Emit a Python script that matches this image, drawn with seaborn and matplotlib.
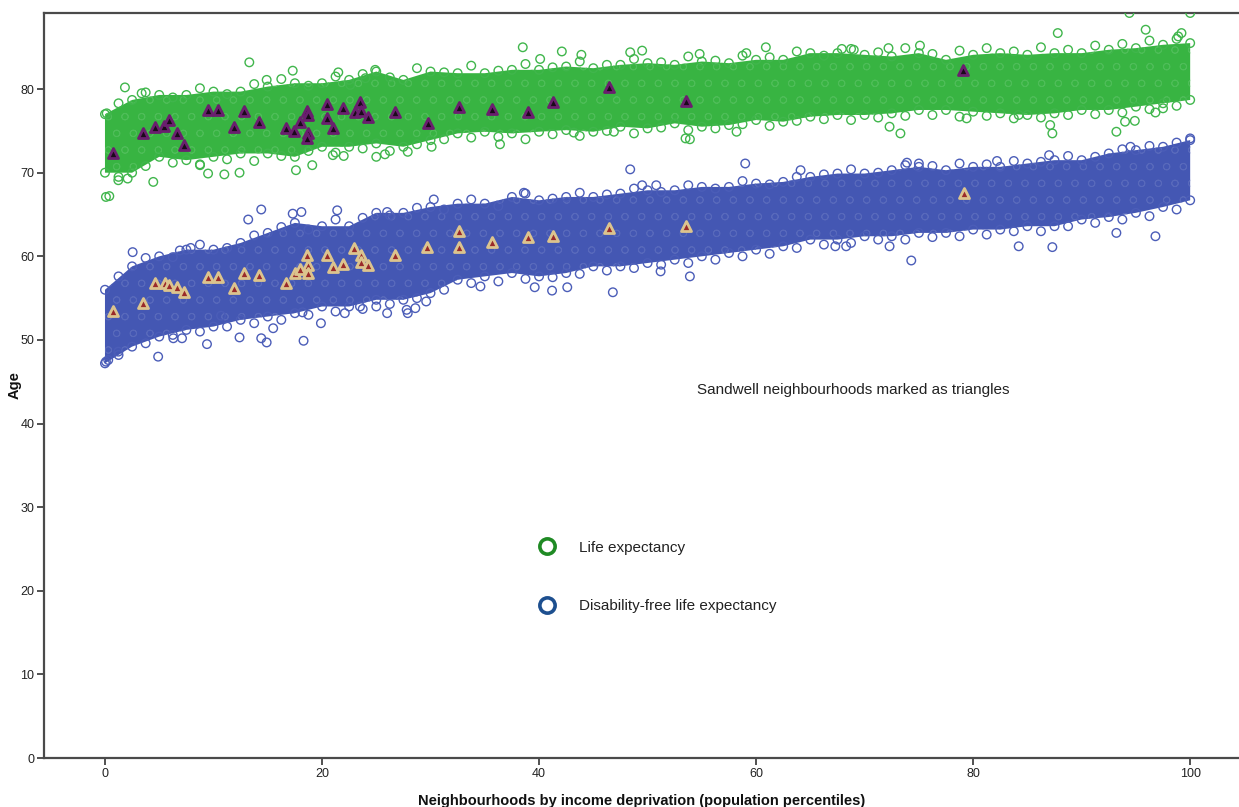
import matplotlib
matplotlib.use("Agg")
import matplotlib.pyplot as plt
import seaborn as sns
from matplotlib.lines import Line2D

# ---- sampled positions along the deprivation scale (percentiles) ----
pct = [0, 2.5, 5, 7.5, 10, 12.5, 15, 17.5, 20, 22.5, 25, 27.5, 30, 32.5, 35,
       37.5, 40, 42.5, 45, 47.5, 50, 52.5, 55, 57.5, 60, 62.5, 65, 67.5, 70,
       72.5, 75, 77.5, 80, 82.5, 85, 87.5, 90, 92.5, 95, 97.5, 100]
pct_mid = [1.25, 3.75, 6.25, 8.75, 11.25, 13.75, 16.25, 18.75, 21.25, 23.75,
           26.25, 28.75, 31.25, 33.75, 36.25, 38.75, 41.25, 43.75, 46.25, 48.75,
           51.25, 53.75, 56.25, 58.75, 61.25, 63.75, 66.25, 68.75, 71.25, 73.75,
           76.25, 78.75, 81.25, 83.75, 86.25, 88.75, 91.25, 93.75, 96.25, 98.75]

# envelope of the life-expectancy cloud (England neighbourhoods)
le_upper = [77.0, 78.7, 79.3, 79.3, 79.7, 79.7, 80.3, 80.7, 80.7, 81.1, 82.1,
            81.1, 82.1, 81.9, 81.9, 82.3, 82.3, 82.7, 82.5, 82.9, 83.1, 82.9,
            83.3, 83.1, 83.5, 83.5, 84.3, 84.3, 84.1, 83.9, 84.3, 83.5, 84.1,
            84.3, 84.1, 84.3, 84.3, 84.7, 84.9, 85.3, 85.5]
le_lower = [70.0, 70.0, 71.9, 71.5, 71.9, 72.3, 72.3, 71.9, 73.1, 73.1, 73.5,
            73.1, 73.9, 74.7, 74.9, 74.7, 74.9, 75.1, 74.9, 75.5, 75.3, 75.9,
            75.5, 75.7, 76.3, 76.1, 76.7, 76.9, 76.9, 77.1, 77.5, 77.5, 77.3,
            77.1, 76.9, 77.1, 77.5, 77.5, 77.9, 78.3, 78.7]
# fringe rings between the sampled positions
le_fringe_hi = [78.3, 79.6, 79.0, 80.1, 79.4, 80.6, 81.2, 80.4, 81.5, 81.8,
                81.4, 82.5, 82.0, 82.8, 82.2, 83.0, 82.6, 83.3, 82.9, 83.6,
                83.2, 83.9, 83.4, 84.0, 83.8, 84.5, 84.0, 84.8, 84.4, 84.9,
                84.2, 84.6, 84.9, 84.5, 85.0, 84.7, 85.2, 85.4, 85.8, 86.0]
le_fringe_lo = [69.5, 70.8, 71.2, 71.0, 71.6, 71.4, 72.0, 72.6, 72.4, 72.9,
                72.6, 73.4, 74.0, 74.2, 74.3, 74.0, 74.6, 74.4, 75.0, 74.7,
                75.4, 75.1, 75.3, 75.8, 75.6, 76.2, 76.4, 76.3, 76.6, 76.8,
                76.9, 76.7, 76.8, 76.5, 76.6, 76.9, 77.0, 77.2, 77.6, 78.0]

# envelope of the disability-free life-expectancy cloud
dfle_upper = [56.0, 58.8, 60.0, 60.8, 60.8, 61.6, 62.8, 64.0, 63.6, 63.6, 65.2,
              65.2, 65.9, 66.3, 66.3, 67.1, 66.7, 67.1, 67.1, 67.5, 67.9, 67.9,
              68.3, 68.3, 68.7, 68.9, 69.5, 69.9, 69.9, 70.3, 70.7, 70.3, 70.7,
              70.7, 71.1, 71.5, 71.5, 72.3, 72.7, 73.1, 73.9]
dfle_lower = [47.2, 49.2, 50.4, 51.2, 51.6, 52.4, 52.8, 53.2, 54.0, 54.0, 54.8,
              54.8, 55.6, 57.2, 57.6, 58.0, 57.6, 58.0, 58.8, 58.8, 59.2, 59.6,
              60.0, 60.4, 60.8, 61.2, 62.0, 62.0, 62.4, 62.4, 62.8, 62.8, 63.2,
              63.2, 63.6, 63.6, 64.4, 64.7, 65.2, 65.9, 66.7]
dfle_fringe_hi = [57.6, 59.8, 59.9, 61.4, 61.0, 62.5, 63.5, 63.2, 64.4, 64.6,
                  64.9, 65.8, 65.6, 66.8, 66.0, 67.5, 66.9, 67.6, 67.4, 68.1,
                  67.7, 68.5, 68.1, 69.0, 68.6, 69.5, 69.8, 70.4, 70.0, 70.9,
                  70.8, 71.1, 71.0, 71.4, 71.3, 72.0, 71.9, 72.8, 73.2, 73.6]
dfle_fringe_lo = [48.2, 49.6, 50.6, 51.0, 51.6, 52.0, 52.4, 53.0, 53.4, 53.7,
                  54.3, 55.0, 56.0, 56.8, 57.0, 57.3, 57.5, 57.9, 58.3, 58.6,
                  59.0, 59.2, 59.6, 60.0, 60.3, 61.0, 61.4, 61.6, 62.0, 62.0,
                  62.3, 62.4, 62.6, 63.0, 63.0, 63.6, 64.0, 64.4, 64.8, 65.6]

# scattered neighbourhoods lying outside the dense band
le_out_x = [1.84, 0.16, 0.09, 0.4, 1.23, 2.09, 4.45, 3.38, 13.3, 17.3, 21.5,
            17.6, 19.1, 12.4, 11.0, 9.5, 8.76, 25.0, 25.8, 22.0, 21.0, 27.9,
            24.9, 14.9, 24.0, 22.6, 38.5, 40.1, 42.1, 43.9, 48.4, 49.5, 54.8,
            60.9, 59.1, 36.4, 53.5, 53.9, 30.1, 43.2, 46.9, 58.2, 94.4, 100.0,
            95.9, 87.8, 99.2, 98.9, 75.1, 72.2, 67.9, 69.0, 72.3, 73.3, 87.1,
            87.3, 93.2, 94.0, 94.9, 96.8, 97.5, 84.2, 79.4]
le_out_y = [80.2, 77.1, 67.1, 67.2, 69.1, 69.3, 68.9, 79.5, 83.2, 82.2, 82.0,
            70.3, 70.9, 70.0, 69.8, 69.9, 70.9, 71.9, 72.2, 72.0, 72.1, 72.5,
            82.3, 81.1, 81.3, 80.5, 85.0, 83.6, 84.5, 84.1, 84.4, 84.6, 84.2,
            85.0, 84.3, 73.4, 74.1, 74.0, 73.1, 74.8, 74.9, 74.9, 89.1, 89.1,
            87.1, 86.7, 86.7, 86.3, 85.2, 84.9, 84.8, 84.7, 75.5, 74.7, 75.7,
            74.7, 74.9, 76.1, 76.2, 77.2, 77.7, 76.9, 76.5]

dfle_out_x = [0.09, 0.3, 4.9, 2.55, 1.23, 6.9, 7.9, 9.4, 6.3, 7.1, 12.4, 14.4,
              14.9, 15.5, 18.3, 19.9, 18.2, 13.2, 14.4, 21.4, 17.3, 18.1, 26.0,
              25.0, 26.0, 27.9, 23.5, 22.1, 10.7, 48.4, 59.0, 64.1, 38.6, 30.3,
              49.5, 50.8, 27.8, 28.6, 29.6, 39.6, 41.2, 42.6, 46.8, 53.9, 51.2,
              34.6, 74.3, 72.3, 84.2, 87.3, 96.8, 93.2, 67.3, 68.3, 87.0, 82.2,
              73.9, 75.0, 94.5, 100.0]
dfle_out_y = [47.4, 47.6, 48.0, 60.5, 48.6, 60.7, 61.0, 49.5, 50.2, 50.2, 50.3,
              50.2, 49.7, 51.4, 49.9, 52.0, 53.3, 64.4, 65.6, 65.5, 65.1, 65.3,
              65.3, 54.0, 53.2, 53.2, 54.0, 53.2, 52.9, 70.4, 71.1, 70.3, 67.6,
              66.8, 68.5, 68.5, 53.6, 53.8, 54.6, 56.3, 55.9, 56.3, 55.7, 57.6,
              58.2, 56.4, 59.5, 61.2, 61.2, 61.1, 62.4, 62.8, 61.2, 61.2, 72.1,
              71.4, 71.2, 71.1, 73.1, 74.1]

# Sandwell neighbourhoods
sw_le_x = [0.71, 3.47, 4.64, 5.47, 5.93, 6.66, 7.31, 9.52, 10.44, 11.89, 12.84,
           14.19, 16.65, 17.45, 17.97, 18.59, 18.74, 18.74, 18.65, 20.43, 20.43,
           21.04, 21.96, 23.04, 23.50, 23.57, 24.27, 26.73, 29.74, 32.65, 35.64,
           38.96, 41.26, 46.48, 53.55, 79.11]
sw_le_y = [72.33, 74.72, 75.44, 75.63, 76.32, 74.72, 73.33, 77.51, 77.51, 75.44,
           77.43, 76.11, 75.32, 75.04, 76.11, 77.43, 76.91, 74.80, 74.13, 78.19,
           76.59, 75.32, 77.71, 77.31, 78.51, 77.43, 76.71, 77.31, 75.92, 77.83,
           77.60, 77.24, 78.51, 80.23, 78.63, 82.30]

sw_dfle_x = [0.76, 3.47, 4.64, 5.53, 5.93, 6.66, 7.31, 9.52, 10.44, 11.89, 12.84,
             14.19, 16.65, 17.51, 17.97, 18.59, 18.74, 18.74, 20.43, 21.04,
             21.91, 22.98, 23.57, 23.57, 24.27, 26.73, 29.65, 32.65, 32.63,
             35.64, 38.96, 41.26, 46.42, 53.55, 79.17]
sw_dfle_y = [53.47, 54.39, 56.78, 56.78, 56.58, 56.38, 55.71, 57.50, 57.50,
             56.26, 57.98, 57.78, 56.78, 57.98, 58.46, 60.17, 58.97, 57.98,
             60.17, 58.77, 59.09, 60.97, 60.17, 59.37, 58.97, 60.13, 61.16,
             63.04, 61.09, 61.76, 62.36, 62.48, 63.36, 63.64, 67.55]

series_labels = ["Life expectancy", "Disability-free life expectancy"]
note = "Sandwell neighbourhoods marked as triangles"
x_title = "Neighbourhoods by income deprivation (population percentiles)"
y_title = "Age"
y_ticks = [0, 10, 20, 30, 40, 50, 60, 70, 80]
x_ticks = [0, 20, 40, 60, 80, 100]

# ---- styling ----
GREEN_CORE = "#38b442"
GREEN_RING = "#40b64c"
GREEN_SPECK = "#4ebd58"
BLUE_CORE = "#4457b3"
BLUE_RING = "#4b5db8"
BLUE_SPECK = "#5869bb"
PURPLE = "#6a1f6e"
TAN = "#dcc48e"

sns.set_theme(style="white")
plt.rcParams["font.family"] = ["Liberation Sans", "DejaVu Sans"]
plt.rcParams["hatch.linewidth"] = 0.6

fig = plt.figure(figsize=(12.39, 8.07), dpi=100)
ax = fig.add_axes([0.0355, 0.0607, 0.9645, 0.9232])


def rings(xs, ys, colour, size=38, lw=1.0):
    sns.scatterplot(x=xs, y=ys, ax=ax, color=colour, s=size, zorder=3, legend=False)
    coll = ax.collections[-1]
    coll.set_facecolor("none")
    coll.set_edgecolor(colour)
    coll.set_linewidth(lw)


def triangles(xs, ys, rim, centre):
    sns.scatterplot(x=xs, y=ys, ax=ax, marker="^", color=centre, s=52, zorder=5, legend=False)
    coll = ax.collections[-1]
    coll.set_facecolor(centre)
    coll.set_edgecolor(rim)
    coll.set_linewidth(2.0)


# dense bands, textured with faint rings
ax.fill_between(pct, le_lower, le_upper, facecolor=GREEN_CORE, edgecolor=GREEN_SPECK,
                hatch="o", linewidth=0, zorder=2)
ax.fill_between(pct, dfle_lower, dfle_upper, facecolor=BLUE_CORE, edgecolor=BLUE_SPECK,
                hatch="o", linewidth=0, zorder=2)

# ragged edges of the bands and the scattered outliers
for ys in (le_upper, le_lower):
    rings(pct, ys, GREEN_RING)
for ys in (le_fringe_hi, le_fringe_lo):
    rings(pct_mid, ys, GREEN_RING)
rings(le_out_x, le_out_y, GREEN_RING)
for ys in (dfle_upper, dfle_lower):
    rings(pct, ys, BLUE_RING)
for ys in (dfle_fringe_hi, dfle_fringe_lo):
    rings(pct_mid, ys, BLUE_RING)
rings(dfle_out_x, dfle_out_y, BLUE_RING)

# Sandwell
triangles(sw_le_x, sw_le_y, PURPLE, "#1a0a1a")
triangles(sw_dfle_x, sw_dfle_y, TAN, "#9a2a2a")

# axes
ax.set_xlim(-5.62, 104.5)
ax.set_ylim(0, 89.1)
ax.set_xticks(x_ticks)
ax.set_yticks(y_ticks)
ax.tick_params(axis="both", which="major", direction="out", length=5, width=1.2,
               color="#333333", labelsize=9, labelcolor="#222222", pad=2,
               left=True, bottom=True)
for side in ("left", "bottom", "top"):
    ax.spines[side].set_color("#4a4a4a")
    ax.spines[side].set_linewidth(1.6)
ax.spines["right"].set_visible(False)
ax.grid(False)

ax.set_xlabel(x_title, fontsize=10.5, fontweight="bold", color="#111111", labelpad=10)
ax.set_ylabel(y_title, fontsize=10.5, fontweight="bold", color="#111111", labelpad=-1)

ax.text(54.6, 44.0, note, fontsize=11, color="#222222", va="center", ha="left")

handles = [
    Line2D([], [], ls="", marker="o", markersize=11, markerfacecolor="none",
           markeredgecolor="#1f8a24", markeredgewidth=2.6),
    Line2D([], [], ls="", marker="o", markersize=11, markerfacecolor="none",
           markeredgecolor="#1d4f8f", markeredgewidth=2.6),
]
ax.legend(handles, series_labels, frameon=False, loc="upper left",
          bbox_to_anchor=(0.403, 0.31), fontsize=11, labelspacing=2.9,
          handletextpad=1.6, handlelength=1.0, labelcolor="#222222")

fig.savefig("out.png", dpi=100)
